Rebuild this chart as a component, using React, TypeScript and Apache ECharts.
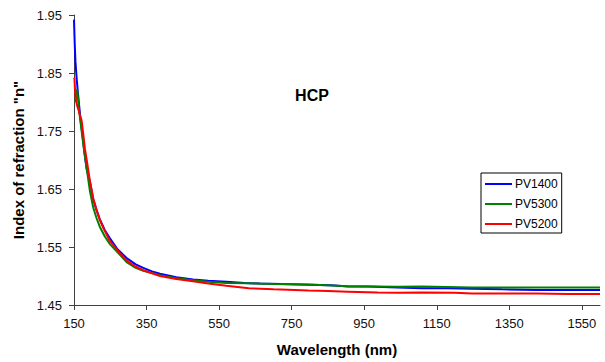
import React, { useEffect, useRef } from "react";
import * as echarts from "echarts";

const xTicks = [150, 350, 550, 750, 950, 1150, 1350, 1550];
const yTicks = [1.45, 1.55, 1.65, 1.75, 1.85, 1.95];

const seriesNames = ["PV1400", "PV5300", "PV5200"];
const seriesColors = ["#0000FF", "#008000", "#FF0000"];

const blueX = [150, 152, 154, 156, 158, 161, 164, 168, 173, 179, 185, 194, 203, 212, 221, 235, 249, 270, 295, 320, 341, 365, 387, 432, 478, 520, 570, 620, 662, 720, 796, 860, 905, 960, 1042, 1110, 1180, 1247, 1330, 1425, 1510, 1600];
const blueY = [1.942, 1.9, 1.87, 1.852, 1.835, 1.815, 1.795, 1.77, 1.745, 1.712, 1.684, 1.662, 1.632, 1.614, 1.598, 1.579, 1.565, 1.546, 1.531, 1.52, 1.514, 1.508, 1.504, 1.498, 1.494, 1.492, 1.49, 1.488, 1.487, 1.486, 1.485, 1.484, 1.482, 1.482, 1.48, 1.479, 1.479, 1.478, 1.477, 1.476, 1.476, 1.476];

const greenX = [153, 156, 158, 160, 162, 164, 166, 170, 176, 185, 194, 203, 212, 221, 235, 249, 276, 295, 320, 341, 387, 432, 478, 520, 570, 632, 700, 796, 905, 1042, 1110, 1247, 1425, 1600];
const greenY = [1.8, 1.81, 1.822, 1.815, 1.8, 1.785, 1.775, 1.755, 1.725, 1.685, 1.646, 1.618, 1.6, 1.585, 1.568, 1.555, 1.537, 1.524, 1.514, 1.509, 1.5015, 1.496, 1.4925, 1.49, 1.488, 1.4875, 1.486, 1.4855, 1.4825, 1.4816, 1.482, 1.48, 1.48, 1.48];

const redX = [151, 153, 155, 158, 162, 166, 171, 176, 180, 185, 190, 194, 203, 212, 221, 231, 249, 276, 295, 320, 341, 387, 432, 478, 520, 570, 632, 700, 796, 850, 905, 987, 1042, 1110, 1200, 1247, 1330, 1425, 1510, 1600];
const redY = [1.842, 1.82, 1.805, 1.795, 1.787, 1.778, 1.768, 1.742, 1.72, 1.7, 1.68, 1.663, 1.634, 1.614, 1.597, 1.5825, 1.56, 1.54, 1.527, 1.516, 1.51, 1.5, 1.495, 1.491, 1.487, 1.483, 1.479, 1.477, 1.475, 1.474, 1.473, 1.4715, 1.471, 1.4715, 1.471, 1.47, 1.47, 1.47, 1.469, 1.469];

const zip = (xs: number[], ys: number[]) => xs.map((x, i) => [x, ys[i]]);

export default function App() {
  const ref = useRef<HTMLDivElement>(null);
  useEffect(() => {
    if (!ref.current) return;
    const chart = echarts.init(ref.current, undefined, { renderer: "svg" });
    const font = "'Liberation Sans', Arial, sans-serif";
    const axisColor = "#404040";
    const datasets = [zip(blueX, blueY), zip(greenX, greenY), zip(redX, redY)];
    chart.setOption({
      animation: false,
      backgroundColor: "#ffffff",
      textStyle: { fontFamily: font },
      grid: { left: 74, right: 5, top: 15, bottom: 55, containLabel: false },
      graphic: [
        {
          type: "text",
          x: 312,
          y: 95,
          style: {
            text: "HCP",
            font: `bold 16px ${font}`,
            fill: "#000",
            textAlign: "center",
            textVerticalAlign: "middle",
          },
        },
      ],
      legend: {
        orient: "vertical",
        left: 481,
        top: 173,
        data: seriesNames,
        icon: "rect",
        itemWidth: 27,
        itemHeight: 2,
        itemGap: 8,
        padding: [5, 4, 3, 4],
        borderColor: "#000",
        borderWidth: 1,
        borderRadius: 0,
        backgroundColor: "#fff",
        textStyle: { fontSize: 12, color: "#000", fontFamily: font, padding: [0, 0, 0, -2] },
      },
      xAxis: {
        type: "value",
        min: 150,
        max: 1600,
        name: "Wavelength (nm)",
        nameLocation: "middle",
        nameGap: 37,
        nameTextStyle: { fontSize: 15, fontWeight: "bold", color: "#000", fontFamily: font },
        axisLine: { show: true, lineStyle: { color: axisColor, width: 1 } },
        axisTick: { show: true, length: 5, lineStyle: { color: axisColor }, customValues: xTicks },
        axisLabel: {
          fontSize: 13,
          color: "#111",
          margin: 12,
          customValues: xTicks,
          formatter: (v: number) => String(v),
        },
        splitLine: { show: false },
      },
      yAxis: {
        type: "value",
        min: 1.45,
        max: 1.95,
        name: 'Index of refraction "n"',
        nameLocation: "middle",
        nameGap: 46,
        nameTextStyle: { fontSize: 15, fontWeight: "bold", color: "#000", fontFamily: font },
        axisLine: { show: true, lineStyle: { color: axisColor, width: 1 } },
        axisTick: { show: true, length: 5, lineStyle: { color: axisColor }, customValues: yTicks },
        axisLabel: {
          fontSize: 13,
          color: "#111",
          margin: 12,
          customValues: yTicks,
          formatter: (v: number) => v.toFixed(2),
        },
        splitLine: { show: false },
      },
      series: datasets.map((d, i) => ({
        name: seriesNames[i],
        type: "line",
        data: d,
        showSymbol: false,
        symbol: "none",
        smooth: false,
        clip: true,
        lineStyle: { color: seriesColors[i], width: 2 },
        itemStyle: { color: seriesColors[i] },
      })),
    });
    return () => chart.dispose();
  }, []);
  return (
    <div
      ref={ref}
      style={{ position: "absolute", left: 0, top: 0, width: 605, height: 362 }}
    />
  );
}
